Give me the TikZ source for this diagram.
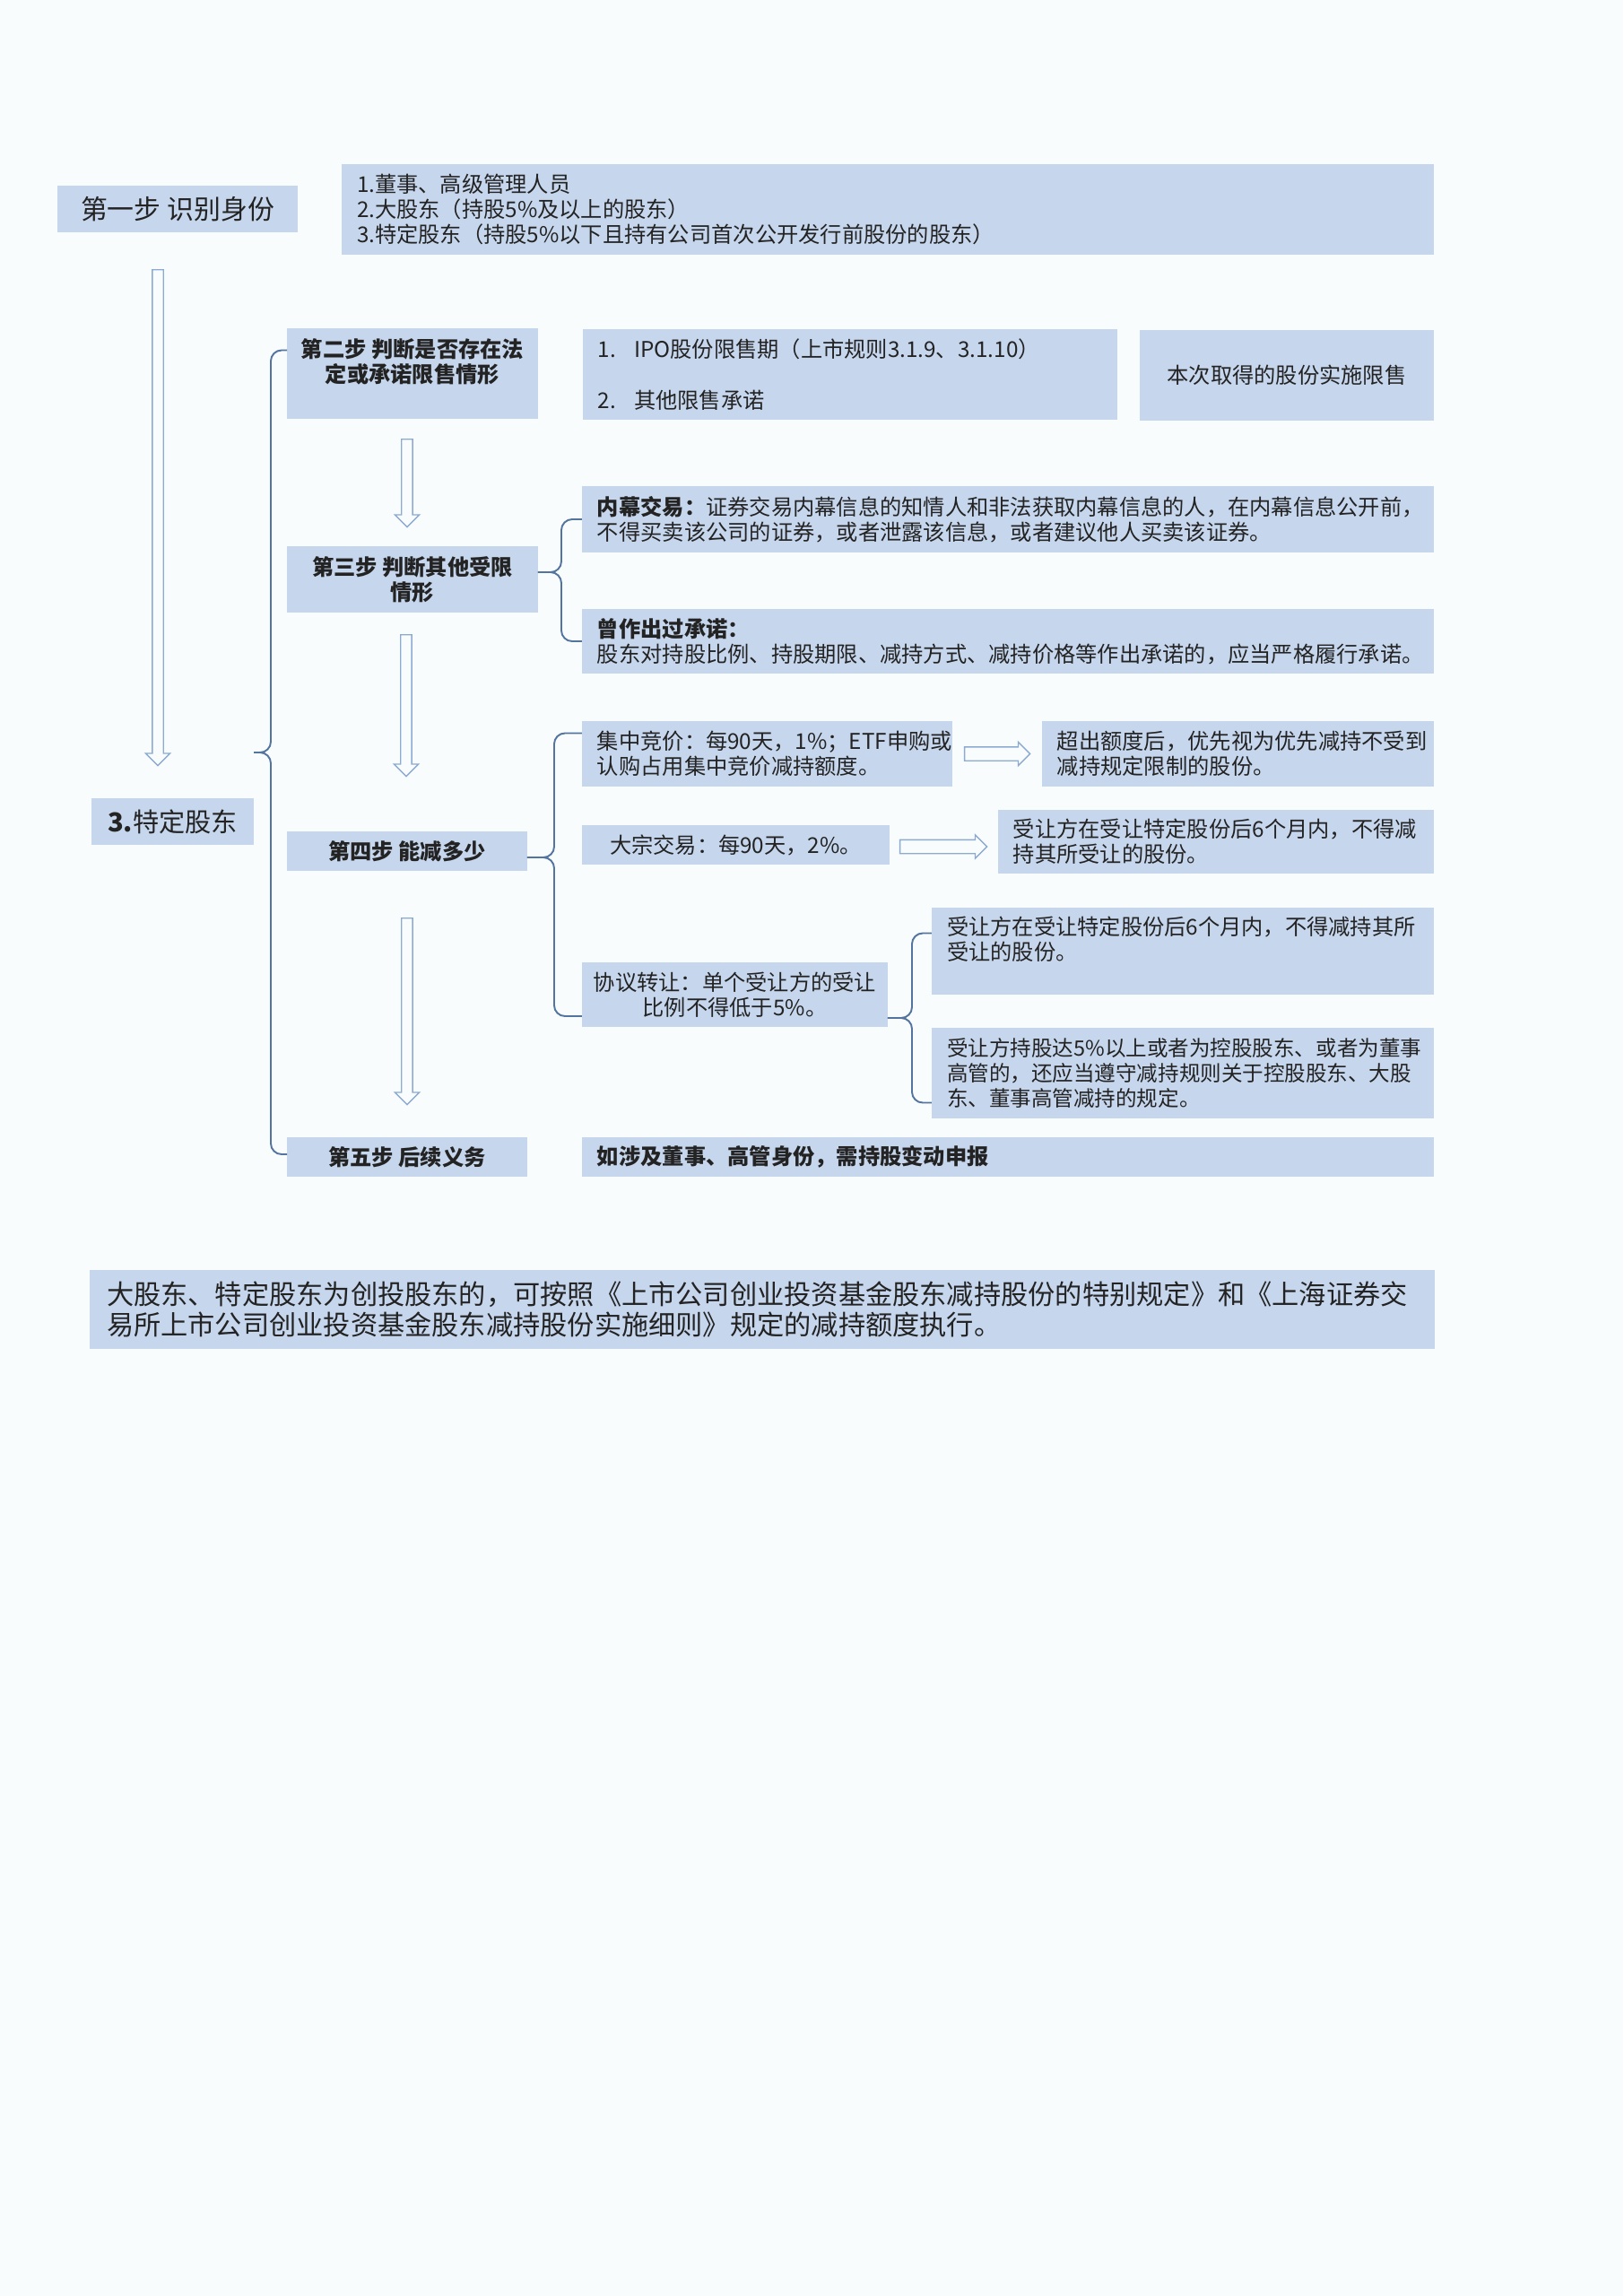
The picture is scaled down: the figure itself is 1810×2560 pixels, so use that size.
\documentclass[tikz,border=0pt]{standalone}
\usepackage{fontspec}
\setmainfont{Noto Sans CJK SC}
\usepackage{tikz}
\usetikzlibrary{positioning, shapes.arrows}
\definecolor{pagebg}{RGB}{248,252,252}
\definecolor{boxblue}{RGB}{198,214,237}
\definecolor{lineblue}{RGB}{84,116,160}
\definecolor{arrowblue}{RGB}{140,170,210}
\definecolor{textgray}{RGB}{35,35,35}
\tikzstyle{box} = [rectangle, fill=boxblue, inner ysep=0pt, inner xsep=1.7mm, outer sep=0pt, text=textgray, font=\fontsize{6.9pt}{8pt}\selectfont]
\tikzstyle{centerbox} = [box, align=center, inner xsep=0.3mm]
\tikzstyle{stepbox} = [box, align=center, inner xsep=0.3mm, font=\fontsize{6.9pt}{8pt}\selectfont\bfseries]
\tikzstyle{textbox} = [box, align=left]
\tikzstyle{titlebox} = [box, align=center, inner xsep=0.3mm, font=\fontsize{8.5pt}{10pt}\selectfont]
\tikzstyle{brace} = [draw=lineblue, line width=0.55pt, rounded corners=1.2mm]
\tikzstyle{downarrow} = [single arrow, draw=arrowblue, fill=pagebg, line width=0.4pt, inner sep=0pt, inner ysep=0.55mm, single arrow head extend=0.75mm, rotate=-90, anchor=tail]
\tikzstyle{rightarrow} = [single arrow, draw=arrowblue, fill=pagebg, line width=0.4pt, inner sep=0pt, inner ysep=0.7mm, single arrow head extend=0.55mm, anchor=tail]

\begin{document}
\begin{tikzpicture}[x=0.1mm, y=0.1mm]
	\fill [pagebg] (0,0) rectangle (1810,-2560);

	\node (step1) [titlebox, anchor=north west, minimum width=26.8mm, minimum height=5.2mm] at (64,-207) {第一步 识别身份};
	\node (who) [textbox, below right=-2.4mm and 4.9mm of step1.north east, minimum width=121.8mm, minimum height=10.1mm, text width=118.4mm] {1.董事、高级管理人员\\2.大股东（持股5\%及以上的股东）\\3.特定股东（持股5\%以下且持有公司首次公开发行前股份的股东）};
	\node (sid) [titlebox, below right=63.1mm and 3.8mm of step1.south west, minimum width=18.1mm, minimum height=5.2mm, font=\fontsize{8.3pt}{10pt}\selectfont] {\textbf{3.}特定股东};

	\node (step2) [stepbox, below right=10.7mm and 25.6mm of step1.south west, minimum width=28mm, minimum height=10.1mm] {第二步 判断是否存在法\\定或承诺限售情形\\ \mbox{}};
	\node (ipo) [textbox, below right=0.1mm and 5mm of step2.north east, minimum width=59.6mm, minimum height=10.1mm, text width=56.2mm] {1.\hspace{2mm}IPO股份限售期（上市规则3.1.9、3.1.10）\\ \mbox{}\\2.\hspace{2mm}其他限售承诺};
	\node (lock) [centerbox, below right=0.1mm and 2.5mm of ipo.north east, minimum width=32.8mm, minimum height=10.1mm] {本次取得的股份实施限售};

	\node (step3) [stepbox, below right=14.2mm and 0mm of step2.south west, minimum width=28mm, minimum height=7.4mm] {第三步 判断其他受限\\情形};
	\node (insider) [textbox, below right=-6.7mm and 4.9mm of step3.north east, minimum width=95mm, minimum height=7.4mm, text width=91.6mm] {\textbf{内幕交易：}证券交易内幕信息的知情人和非法获取内幕信息的人，在内幕信息公开前，\\不得买卖该公司的证券，或者泄露该信息，或者建议他人买卖该证券。};
	\node (promise) [textbox, below right=6.3mm and 0mm of insider.south west, minimum width=95mm, minimum height=7.2mm, text width=91.6mm] {\textbf{曾作出过承诺：}\\股东对持股比例、持股期限、减持方式、减持价格等作出承诺的，应当严格履行承诺。};

	\node (step4) [stepbox, below right=24.4mm and 0mm of step3.south west, minimum width=26.8mm, minimum height=4.4mm] {第四步 能减多少};
	\node (bidding) [textbox, below right=-12.3mm and 6.1mm of step4.north east, minimum width=41.3mm, minimum height=7.3mm, text width=37.9mm] {集中竞价：每90天，1\%；ETF申购或\\认购占用集中竞价减持额度。};
	\node (excess) [textbox, below right=0mm and 10mm of bidding.north east, minimum width=43.7mm, minimum height=7.3mm, text width=40.3mm] {超出额度后，优先视为优先减持不受到\\减持规定限制的股份。};
	\node (block) [centerbox, below right=4.3mm and 0mm of bidding.south west, minimum width=34.3mm, minimum height=4.4mm] {大宗交易：每90天，2\%。};
	\node (blockres) [textbox, below right=-1.7mm and 12.1mm of block.north east, minimum width=48.6mm, minimum height=7.1mm, text width=45.2mm] {受让方在受让特定股份后6个月内，不得减\\持其所受让的股份。};
	\node (agree) [centerbox, below right=10.9mm and 0mm of block.south west, minimum width=34.1mm, minimum height=7.2mm] {协议转让：单个受让方的受让\\比例不得低于5\%。};
	\node (agreeA) [textbox, below right=-6.1mm and 4.9mm of agree.north east, minimum width=56mm, minimum height=9.7mm, text width=52.6mm] {受让方在受让特定股份后6个月内，不得减持其所\\受让的股份。\\ \mbox{}};
	\node (agreeB) [textbox, below right=3.7mm and 0mm of agreeA.south west, minimum width=56mm, minimum height=10.1mm, text width=52.6mm, font=\fontsize{6.7pt}{8pt}\selectfont] {受让方持股达5\%以上或者为控股股东、或者为董事\\高管的，还应当遵守减持规则关于控股股东、大股\\东、董事高管减持的规定。};

	\node (step5) [stepbox, below right=29.7mm and 0mm of step4.south west, minimum width=26.8mm, minimum height=4.4mm] {第五步 后续义务};
	\node (duty) [textbox, below right=0mm and 6.1mm of step5.north east, minimum width=95mm, minimum height=4.4mm, text width=91.6mm, font=\fontsize{6.9pt}{8pt}\selectfont\bfseries] {如涉及董事、高管身份，需持股变动申报};

	\node (note) [textbox, below right=10.4mm and -22mm of step5.south west, minimum width=150mm, minimum height=8.8mm, inner xsep=1.9mm, text width=146.2mm, font=\fontsize{8.6pt}{9.7pt}\selectfont] {大股东、特定股东为创投股东的，可按照《上市公司创业投资基金股东减持股份的特别规定》和《上海证券交\\易所上市公司创业投资基金股东减持股份实施细则》规定的减持额度执行。};

	\node (down1) [downarrow, minimum height=55.3mm] at ([xshift=-2.2mm, yshift=-4.1mm]step1.south) {};
	\node (down2) [downarrow, minimum height=9.8mm] at ([xshift=-0.6mm, yshift=-2.2mm]step2.south) {};
	\node (down3) [downarrow, minimum height=15.8mm] at ([xshift=-0.7mm, yshift=-2.4mm]step3.south) {};
	\node (down4) [downarrow, minimum height=20.8mm] at ([yshift=-5.2mm]step4.south) {};
	\node (right1) [rightarrow, minimum height=7.3mm] at ([xshift=1.3mm]bidding.east) {};
	\node (right2) [rightarrow, minimum height=9.7mm] at ([xshift=1.1mm, yshift=-0.2mm]block.east) {};

	\coordinate (sidtip) at ([yshift=5.1mm]sid.north east);
	\draw [brace] ([yshift=2.6mm]step2.west) -- ++(-1.8mm,0) |- (sidtip);
	\draw [brace] ([yshift=0.3mm]step5.west) -- ++(-1.8mm,0) |- (sidtip);

	\draw [brace] (insider.west) -- ++(-2.3mm,0) |- ([yshift=0.8mm]step3.east);
	\draw [brace] (promise.west) -- ++(-2.3mm,0) |- ([yshift=0.8mm]step3.east);

	\draw [brace] ([yshift=2.3mm]bidding.west) -- ++(-3.1mm,0) |- ([yshift=-0.7mm]step4.east);
	\draw [brace] ([yshift=-2.4mm]agree.west) -- ++(-3.1mm,0) |- ([yshift=-0.7mm]step4.east);

	\draw [brace] ([yshift=2mm]agreeA.west) -- ++(-2.2mm,0) |- ([yshift=-2.6mm]agree.east);
	\draw [brace] ([yshift=-3.3mm]agreeB.west) -- ++(-2.2mm,0) |- ([yshift=-2.6mm]agree.east);
\end{tikzpicture}
\end{document}
